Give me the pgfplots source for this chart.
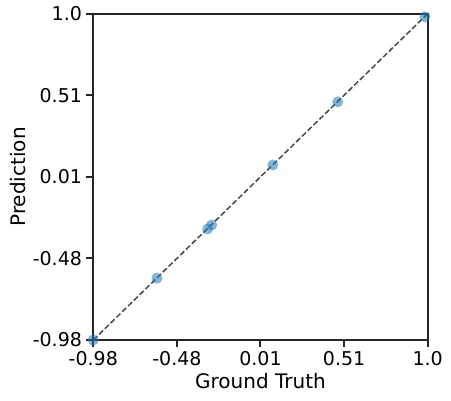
\documentclass[border=0pt]{standalone}
\usepackage{pgfplots}
\pgfplotsset{compat=1.18}
\usepackage{fontspec}
\setmainfont{DejaVu Sans}
\definecolor{tabblue}{HTML}{1F77B4}
\definecolor{spine}{HTML}{262626}
\pgfplotsset{every axis/.append style={line width=2pt}}
\begin{document}
\begin{tikzpicture}
\begin{axis}[
  name=ax,
  scale only axis,
  width=334.4pt, height=326.3pt,
  xmin=-0.98, xmax=1.0, ymin=-0.98, ymax=1.0,
  xtick={-0.98,-0.485,0.01,0.505,1.0},
  ytick={-0.98,-0.485,0.01,0.505,1.0},
  xticklabels={-0.98,-0.48,0.01,0.51,1.0},
  yticklabels={-0.98,-0.48,0.01,0.51,1.0},
  xtick pos=left, ytick pos=left,
  xtick align=outside, ytick align=outside,
  major tick length=7pt,
  axis line style={color=spine, line width=2pt},
  major tick style={color=spine, line width=2pt},
  tick label style={font=\fontsize{19}{23}\selectfont, text=black},
  label style={font=\fontsize{20}{24}\selectfont, text=black},
  xlabel={Ground Truth},
  ylabel={Prediction},
  xlabel style={yshift=0pt},
  ylabel style={yshift=-1pt},
  clip=false,
]
\addplot[color=spine!85, line width=1.5pt, dash pattern=on 5.5pt off 2.6pt] coordinates {(-0.98,-0.98) (1.0,1.0)};
\addplot[only marks, mark=*, mark size=5.5pt,
  mark options={fill=tabblue, fill opacity=0.55, draw opacity=0, line width=0pt}] coordinates {
(-0.98,-0.98)
(-0.603,-0.605)
(-0.303,-0.306)
(-0.279,-0.282)
(0.083,0.082)
(0.467,0.465)
(0.983,0.981)
};
\end{axis}
\pgfresetboundingbox
\path (ax.south west) ++(-93.3pt,-61pt) rectangle ++(451pt,401pt);
\end{tikzpicture}
\end{document}
